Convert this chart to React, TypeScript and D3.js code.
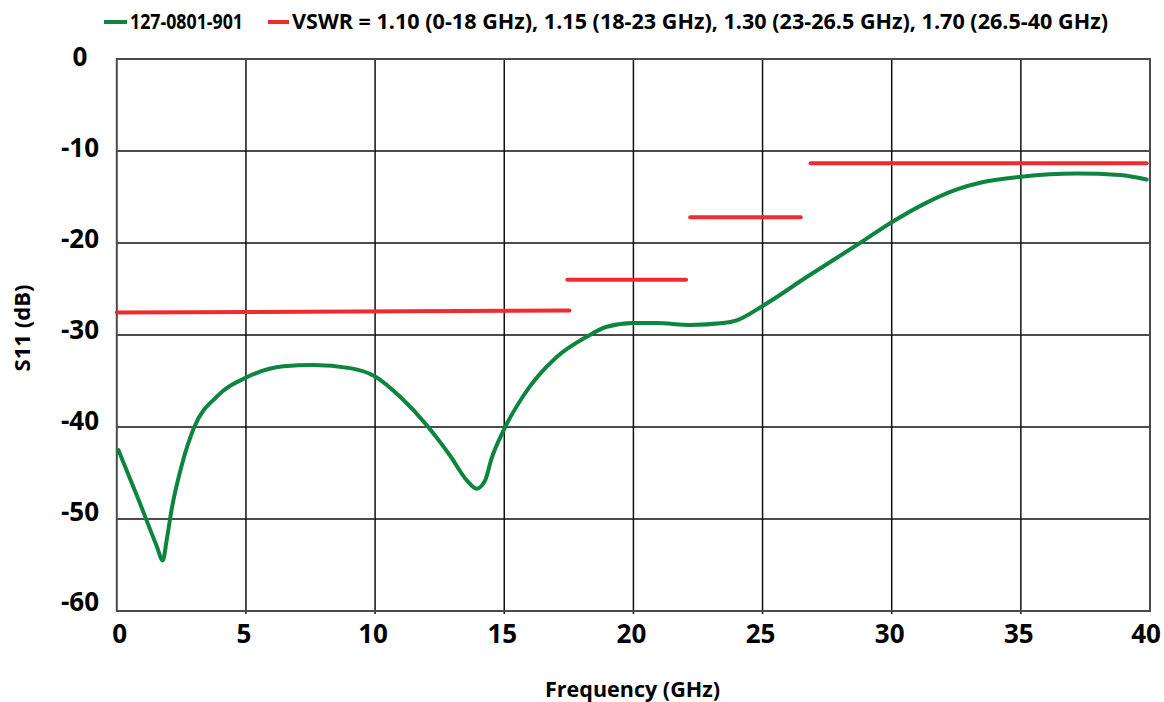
import React from "react";
import * as d3 from "d3";

const xTicks = [0, 5, 10, 15, 20, 25, 30, 35, 40];
const yTicks = [0, -10, -20, -30, -40, -50, -60];

const seriesName = "127-0801-901";
const limitName = "VSWR = 1.10 (0-18 GHz), 1.15 (18-23 GHz), 1.30 (23-26.5 GHz), 1.70 (26.5-40 GHz)";

// measured S11 (GHz, dB)
const freq = [0.06, 0.8, 1.54, 1.78, 1.93, 2.12, 2.51, 3.0, 3.87, 5.03, 6.45, 7.6, 9.03, 10.0, 11.0, 12.0, 12.9, 13.55, 13.93, 14.26, 14.51, 14.95, 15.74, 17.03, 18.19, 18.97, 20.0, 20.9, 22.19, 23.48, 24.0, 24.97, 26.71, 28.77, 29.97, 31.22, 32.5, 33.5, 35.0, 37.16, 38.84, 39.87];
const s11 = [-42.5, -47.6, -52.9, -54.5, -52.3, -49.0, -44.2, -40.0, -36.7, -34.6, -33.4, -33.25, -33.6, -34.5, -36.8, -39.8, -43.1, -45.8, -46.7, -45.8, -43.4, -40.5, -36.6, -32.4, -30.2, -29.1, -28.7, -28.7, -28.9, -28.7, -28.4, -26.9, -23.7, -20.0, -17.8, -15.8, -14.2, -13.4, -12.8, -12.45, -12.6, -13.1];

// limit segments
const limitStart = [0, 17.44, 22.2, 26.86];
const limitEnd = [17.52, 22.04, 26.48, 39.87];
const limitDbStart = [-27.55, -24.0, -17.2, -11.34];
const limitDbEnd = [-27.35, -24.0, -17.2, -11.34];

const GREEN = "#0d843f";
const RED = "#ef2b2f";
const FONT = "'Open Sans', 'Noto Sans', sans-serif";

export default function App() {
  const x = d3.scaleLinear().domain([0, 40]).range([116.8, 1150]);
  const y = d3.scaleLinear().domain([0, -60]).range([59, 611]);
  const yLabel = d3.scaleLinear().domain([0, -60]).range([57, 602]);

  const pts: [number, number][] = freq.map((f, i) => [f, s11[i]]);
  const line = d3
    .line<[number, number]>()
    .x((d) => x(d[0]))
    .y((d) => y(d[1]))
    .curve(d3.curveMonotoneX);

  return (
    <svg
      width={1164}
      height={702}
      style={{ position: "absolute", left: 0, top: 0, background: "#fff" }}
      fontFamily={FONT}
    >
      <rect x={0} y={0} width={1164} height={702} fill="#fff" />
      {/* legend */}
      <line x1={104} x2={127} y1={22} y2={22} stroke={GREEN} strokeWidth={4} />
      <text x={130} y={29} fontSize={20.5} fontWeight={700} textLength={113} lengthAdjust="spacingAndGlyphs">
        {seriesName}
      </text>
      <line x1={268} x2={289} y1={22} y2={22} stroke={RED} strokeWidth={4} />
      <text x={292} y={29} fontSize={20.5} fontWeight={700} textLength={816} lengthAdjust="spacingAndGlyphs">
        {limitName}
      </text>

      {/* grid */}
      {xTicks.slice(1, -1).map((t) => (
        <line key={"gx" + t} x1={x(t)} x2={x(t)} y1={y(0)} y2={y(-60) + 3} stroke="#111" strokeWidth={1.5} />
      ))}
      {yTicks.slice(1, -1).map((t) => (
        <line key={"gy" + t} x1={x(0)} x2={x(40)} y1={y(t)} y2={y(t)} stroke="#111" strokeWidth={1.5} />
      ))}
      {/* frame */}
      <rect x={x(0)} y={y(0)} width={x(40) - x(0)} height={y(-60) - y(0)} fill="none" stroke="#4a4a4a" strokeWidth={2} />

      {/* limit lines */}
      {limitStart.map((s, i) => (
        <line
          key={"lim" + i}
          x1={x(s)}
          x2={x(limitEnd[i])}
          y1={y(limitDbStart[i])}
          y2={y(limitDbEnd[i])}
          stroke={RED}
          strokeWidth={4}
          strokeLinecap="round"
        />
      ))}

      {/* measured curve */}
      <path d={line(pts) || ""} fill="none" stroke={GREEN} strokeWidth={4} strokeLinejoin="round" strokeLinecap="round" />

      {/* tick labels */}
      {xTicks.map((t) => (
        <text key={"tx" + t} x={x(t) + (t === 0 ? 3 : t === 40 ? -4 : -2)} y={643} fontSize={26} fontWeight={700} textAnchor="middle">
          {t}
        </text>
      ))}
      {yTicks.map((t) => (
        <text key={"ty" + t} x={80} y={yLabel(t)} dy="0.36em" fontSize={26} fontWeight={700} textAnchor="middle">
          {t}
        </text>
      ))}

      {/* axis titles */}
      <text x={632.5} y={697} fontSize={22} fontWeight={700} textAnchor="middle" textLength={175} lengthAdjust="spacingAndGlyphs">
        Frequency (GHz)
      </text>
      <text
        transform="translate(30,328) rotate(-90)"
        fontSize={21}
        fontWeight={700}
        textAnchor="middle"
        textLength={87}
        lengthAdjust="spacingAndGlyphs"
      >
        S11 (dB)
      </text>
    </svg>
  );
}
